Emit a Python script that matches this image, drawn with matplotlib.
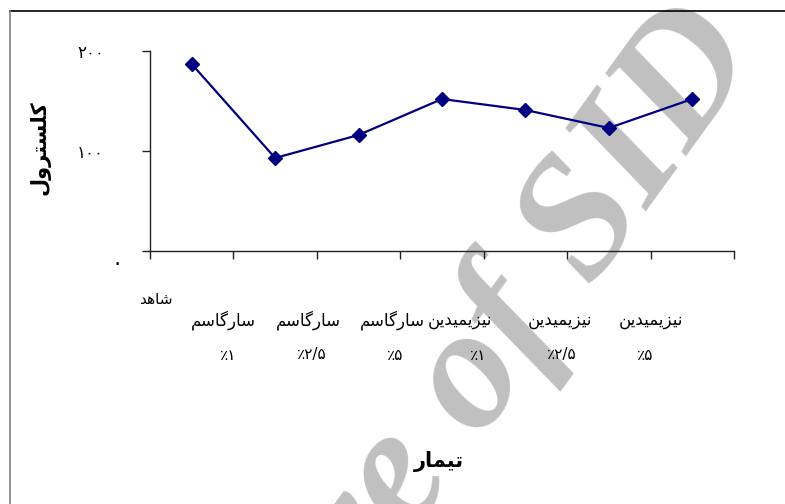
import matplotlib
matplotlib.use("Agg")
import matplotlib.pyplot as plt
from matplotlib.lines import Line2D
from matplotlib.transforms import ScaledTranslation

# ---------------- data ----------------
groups = ["شاهد", "سارگاسم", "سارگاسم", "سارگاسم", "نیزیمیدین", "نیزیمیدین", "نیزیمیدین"]
doses = ["", "٪۱", "٪۲/۵", "٪۵", "٪۱", "٪۲/۵", "٪۵"]
cholesterol = [187, 93, 116, 152, 141, 123, 152]
y_ticks = [0, 100, 200]
y_tick_labels = ["۰", "۱۰۰", "۲۰۰"]
y_title = "کلسترول"
x_title = "تیمار"
watermark = "Archive of SID"

# layout: horizontal shift of each category label (in category units)
word_shift = [-0.43, -0.62, -0.60, -0.59, -0.78, -0.58, -0.50]
dose_shift = -0.56

# ---------------- minimal Arabic/Persian shaping ----------------
FORMS = {
    "ا": ("\uFE8D", "\uFE8E", None, None),
    "د": ("\uFEA9", "\uFEAA", None, None),
    "ر": ("\uFEAD", "\uFEAE", None, None),
    "ز": ("\uFEAF", "\uFEB0", None, None),
    "و": ("\uFEED", "\uFEEE", None, None),
    "ش": ("\uFEB5", "\uFEB6", "\uFEB7", "\uFEB8"),
    "س": ("\uFEB1", "\uFEB2", "\uFEB3", "\uFEB4"),
    "ه": ("\uFEE9", "\uFEEA", "\uFEEB", "\uFEEC"),
    "م": ("\uFEE1", "\uFEE2", "\uFEE3", "\uFEE4"),
    "ن": ("\uFEE5", "\uFEE6", "\uFEE7", "\uFEE8"),
    "ت": ("\uFE95", "\uFE96", "\uFE97", "\uFE98"),
    "ل": ("\uFEDD", "\uFEDE", "\uFEDF", "\uFEE0"),
    "گ": ("\uFB92", "\uFB93", "\uFB94", "\uFB95"),
    "ک": ("\uFB8E", "\uFB8F", "\uFB90", "\uFB91"),
    "ی": ("\uFBFC", "\uFBFD", "\uFBFE", "\uFBFF"),
}


def shape(word):
    out = []
    n = len(word)
    for i, ch in enumerate(word):
        if ch not in FORMS:
            out.append(ch)
            continue
        iso, fin, ini, med = FORMS[ch]
        prev_joins = i > 0 and word[i - 1] in FORMS and FORMS[word[i - 1]][2] is not None
        next_joins = (i < n - 1 and word[i + 1] in FORMS and ini is not None)
        if prev_joins and next_joins:
            out.append(med)
        elif prev_joins:
            out.append(fin)
        elif next_joins:
            out.append(ini)
        else:
            out.append(iso)
    return "".join(reversed(out))


plt.rcParams["font.family"] = ["DejaVu Sans"]

fig = plt.figure(figsize=(7.85, 5.04), dpi=100)
W, H = 785, 504

# watermark behind everything
fig.text(765 / W, 1 - 60 / H, watermark, fontsize=125, color="#C0C0C0",
         family="Liberation Serif", weight="bold", style="italic", rotation=54,
         rotation_mode="anchor", ha="right", va="baseline", zorder=-10)

# frame lines (top and left)
fig.add_artist(Line2D([10 / W, 1.0], [1 - 11 / H, 1 - 11 / H], color="black", lw=1.2))
fig.add_artist(Line2D([10 / W, 10 / W], [0, 1 - 11 / H], color="#808080", lw=1.2))

ax = fig.add_axes([150 / W, 1 - 251 / H, 584 / W, 200 / H])
ax.set_zorder(1)
ax.patch.set_alpha(0)
x = list(range(1, len(cholesterol) + 1))
ax.plot(x, cholesterol, color="#000080", lw=1.6, marker="D", ms=7.5,
        markerfacecolor="#000080", markeredgecolor="#000080")

ax.set_xlim(0.5, len(cholesterol) + 0.5)
ax.set_ylim(0, 200)
for s in ["top", "right"]:
    ax.spines[s].set_visible(False)
for s in ["left", "bottom"]:
    ax.spines[s].set_color("#222222")
    ax.spines[s].set_linewidth(1.0)

ax.set_xticks([i + 0.5 for i in range(0, len(cholesterol) + 1)])
ax.set_xticklabels([])
ax.tick_params(axis="x", direction="out", length=5.5, width=1.0, color="#222222")

ax.set_yticks(y_ticks)
ax.set_yticklabels(y_tick_labels, fontsize=12)
ax.tick_params(axis="y", direction="out", length=6, width=1.0, color="#222222", pad=27)
zero_lbl = ax.get_yticklabels()[0]
zero_lbl.set_fontsize(15)
zero_lbl.set_transform(zero_lbl.get_transform() + ScaledTranslation(19 / 100, -11 / 100, fig.dpi_scale_trans))

tr = ax.get_xaxis_transform()
for i, (g, d) in enumerate(zip(groups, doses)):
    xi = i + 1
    if d == "":
        ax.text(xi + word_shift[i], -0.245, shape(g), transform=tr, fontsize=11,
                ha="center", va="center", clip_on=False)
    else:
        ax.text(xi + word_shift[i], -0.345, shape(g), transform=tr, fontsize=12,
                ha="center", va="center", clip_on=False)
        ax.text(xi + dose_shift, -0.52, d, transform=tr, fontsize=11,
                ha="center", va="center", clip_on=False)

fig.text(40 / W, 1 - 148 / H, shape(y_title), rotation=90, fontsize=15,
         weight="bold", ha="center", va="center")
fig.text(439 / W, 1 - 462 / H, shape(x_title), fontsize=15,
         weight="bold", ha="center", va="center")

fig.savefig("out.png", dpi=100)
